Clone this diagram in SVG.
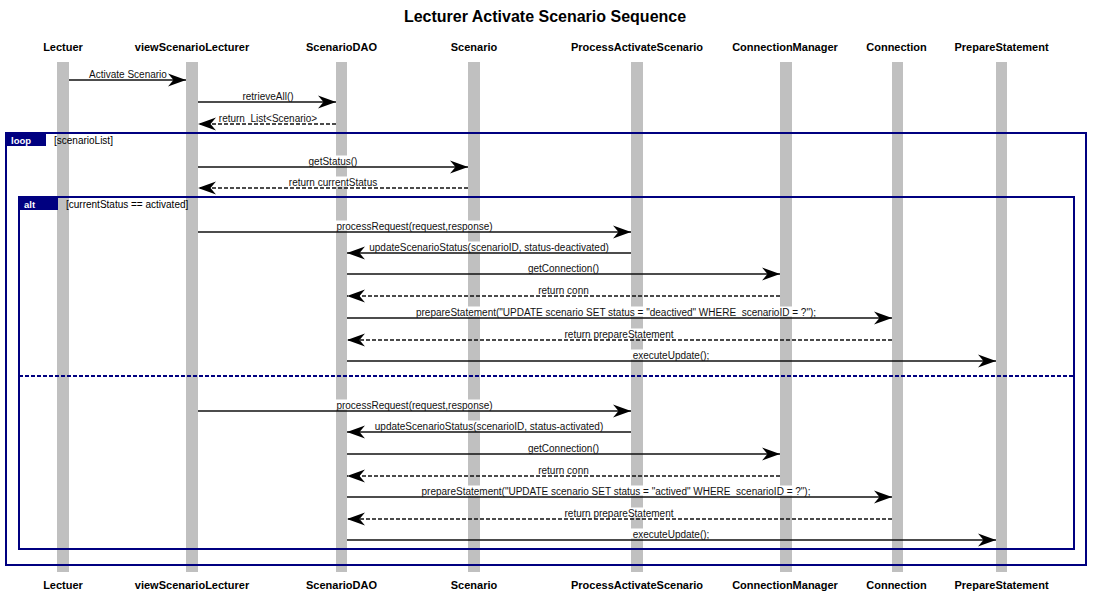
<svg xmlns="http://www.w3.org/2000/svg" width="1095" height="602" viewBox="0 0 1095 602">
<style>
text{font-family:"Liberation Sans",Arial,sans-serif;}
.title{font-size:16px;font-weight:bold;fill:#000;}
.pname{font-size:11px;font-weight:bold;fill:#000;text-anchor:middle;}
.bar{fill:#c0c0c0;}
.msg{stroke:#111;stroke-width:1.5;fill:none;}
.ret{stroke:#111;stroke-width:1.5;fill:none;stroke-dasharray:4,2;}
.lbl{font-size:10px;fill:#111;text-anchor:middle;white-space:pre;}
.bg{fill:#fff;}
.frame{fill:none;stroke:#000080;stroke-width:2;}
.div{fill:none;stroke:#000080;stroke-width:2;stroke-dasharray:4,2;}
.tab{fill:#000080;}
.tabt{font-size:9.5px;font-weight:bold;fill:#fff;}
.guard{font-size:10px;fill:#000;}
</style>
<defs>
<marker id="ah" markerUnits="userSpaceOnUse" markerWidth="20" markerHeight="16" refX="18" refY="7" orient="auto" viewBox="0 0 20 16">
<path d="M18,7 L0,0.5 L5.5,7 L0,13.5 Z" fill="#000"/>
</marker>
</defs>
<rect x="0" y="0" width="1095" height="602" fill="#fff"/>
<text class="title" x="545" y="22" text-anchor="middle">Lecturer Activate Scenario Sequence</text>

<g id="Lectuer"><text class="pname" x="63" y="51">Lectuer</text><rect class="bar" x="57" y="62" width="12" height="510"/><text class="pname" x="63" y="589">Lectuer</text></g>
<g id="viewScenarioLecturer"><text class="pname" x="192" y="51">viewScenarioLecturer</text><rect class="bar" x="186" y="62" width="12" height="510"/><text class="pname" x="192" y="589">viewScenarioLecturer</text></g>
<g id="ScenarioDAO"><text class="pname" x="341.5" y="51">ScenarioDAO</text><rect class="bar" x="336" y="62" width="11" height="510"/><text class="pname" x="341.5" y="589">ScenarioDAO</text></g>
<g id="Scenario"><text class="pname" x="474" y="51">Scenario</text><rect class="bar" x="468" y="62" width="12" height="510"/><text class="pname" x="474" y="589">Scenario</text></g>
<g id="ProcessActivateScenario"><text class="pname" x="637" y="51">ProcessActivateScenario</text><rect class="bar" x="631" y="62" width="12" height="510"/><text class="pname" x="637" y="589">ProcessActivateScenario</text></g>
<g id="ConnectionManager"><text class="pname" x="785" y="51">ConnectionManager</text><rect class="bar" x="780" y="62" width="12" height="510"/><text class="pname" x="785" y="589">ConnectionManager</text></g>
<g id="Connection"><text class="pname" x="896.5" y="51">Connection</text><rect class="bar" x="892" y="62" width="11" height="510"/><text class="pname" x="896.5" y="589">Connection</text></g>
<g id="PrepareStatement"><text class="pname" x="1001.5" y="51">PrepareStatement</text><rect class="bar" x="996" y="62" width="11" height="510"/><text class="pname" x="1001.5" y="589">PrepareStatement</text></g>

<g id="frames">
<rect class="frame" x="6" y="133" width="1080" height="432"/>
<rect class="tab" x="6" y="133" width="40" height="13"/>
<text class="tabt" x="11" y="143.5">loop</text>
<text class="guard" x="54" y="143.5">[scenarioList]</text>
<rect class="frame" x="19" y="197" width="1055" height="352"/>
<rect class="tab" x="19" y="197" width="39" height="13"/>
<text class="tabt" x="24" y="207.5">alt</text>
<text class="guard" x="66" y="207.5">[currentStatus == activated]</text>
<line class="div" x1="19" y1="376" x2="1074" y2="376"/>
</g>

<g id="connectors">
<g id="label-bg">
<rect class="bg" x="306" y="155.5" width="55" height="10"/>
<rect class="bg" x="287" y="176.5" width="93" height="10"/>
<rect class="bg" x="335" y="220.5" width="160" height="10"/>
<rect class="bg" x="365" y="241.5" width="248" height="10"/>
<rect class="bg" x="408" y="306.5" width="417" height="10"/>
<rect class="bg" x="564" y="328.5" width="110" height="10"/>
<rect class="bg" x="631" y="349.5" width="80" height="10"/>
<rect class="bg" x="335" y="399.5" width="160" height="10"/>
<rect class="bg" x="370" y="420.5" width="237" height="10"/>
<rect class="bg" x="414" y="485.5" width="405" height="10"/>
<rect class="bg" x="564" y="507.5" width="110" height="10"/>
<rect class="bg" x="631" y="528.5" width="80" height="10"/>
</g>
<line class="msg" x1="69" y1="80" x2="186" y2="80" marker-end="url(#ah)"/>
<line class="msg" x1="198" y1="102" x2="336" y2="102" marker-end="url(#ah)"/>
<line class="ret" x1="336" y1="124" x2="198" y2="124" marker-end="url(#ah)"/>
<line class="msg" x1="198" y1="167" x2="468" y2="167" marker-end="url(#ah)"/>
<line class="ret" x1="468" y1="188" x2="198" y2="188" marker-end="url(#ah)"/>

<line class="msg" x1="198" y1="232" x2="631" y2="232" marker-end="url(#ah)"/>
<line class="msg" x1="631" y1="253" x2="347" y2="253" marker-end="url(#ah)"/>
<line class="msg" x1="347" y1="274" x2="780" y2="274" marker-end="url(#ah)"/>
<line class="ret" x1="780" y1="296" x2="347" y2="296" marker-end="url(#ah)"/>
<line class="msg" x1="347" y1="318" x2="892" y2="318" marker-end="url(#ah)"/>
<line class="ret" x1="892" y1="340" x2="347" y2="340" marker-end="url(#ah)"/>
<line class="msg" x1="347" y1="361" x2="996" y2="361" marker-end="url(#ah)"/>

<line class="msg" x1="198" y1="411" x2="631" y2="411" marker-end="url(#ah)"/>
<line class="msg" x1="631" y1="432" x2="347" y2="432" marker-end="url(#ah)"/>
<line class="msg" x1="347" y1="454" x2="780" y2="454" marker-end="url(#ah)"/>
<line class="ret" x1="780" y1="476" x2="347" y2="476" marker-end="url(#ah)"/>
<line class="msg" x1="347" y1="497" x2="892" y2="497" marker-end="url(#ah)"/>
<line class="ret" x1="892" y1="519" x2="347" y2="519" marker-end="url(#ah)"/>
<line class="msg" x1="347" y1="540" x2="996" y2="540" marker-end="url(#ah)"/>

<text class="lbl" x="128" y="77.5">Activate Scenario</text>
<text class="lbl" x="268" y="99.5">retrieveAll()</text>
<text class="lbl" x="268" y="121.5">return  List&lt;Scenario&gt;</text>
<text class="lbl" x="333" y="164.5">getStatus()</text>
<text class="lbl" x="333" y="185.5">return currentStatus</text>

<text class="lbl" x="414.5" y="229.5">processRequest(request,response)</text>
<text class="lbl" x="489" y="250.5">updateScenarioStatus(scenarioID, status-deactivated)</text>
<text class="lbl" x="563.5" y="271.5">getConnection()</text>
<text class="lbl" x="563.5" y="293.5">return conn</text>
<text class="lbl" x="616" y="315.5">prepareStatement("UPDATE scenario SET status = "deactived" WHERE  scenarioID = ?");</text>
<text class="lbl" x="619" y="337.5">return prepareStatement</text>
<text class="lbl" x="671" y="358.5">executeUpdate();</text>

<text class="lbl" x="414.5" y="408.5">processRequest(request,response)</text>
<text class="lbl" x="489" y="429.5">updateScenarioStatus(scenarioID, status-activated)</text>
<text class="lbl" x="563.5" y="451.5">getConnection()</text>
<text class="lbl" x="563.5" y="473.5">return conn</text>
<text class="lbl" x="616" y="494.5">prepareStatement("UPDATE scenario SET status = "actived" WHERE  scenarioID = ?");</text>
<text class="lbl" x="619" y="516.5">return prepareStatement</text>
<text class="lbl" x="671" y="537.5">executeUpdate();</text>
</g>
</svg>
